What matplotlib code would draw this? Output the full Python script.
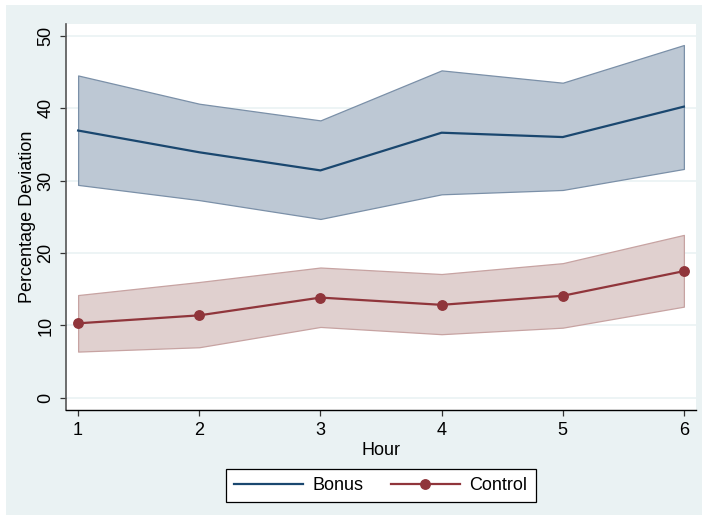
import matplotlib
matplotlib.use("Agg")
import matplotlib.pyplot as plt
from matplotlib.patches import Rectangle
from matplotlib.lines import Line2D

hours = [1, 2, 3, 4, 5, 6]
bonus_mean = [36.9, 33.9, 31.4, 36.6, 36.0, 40.2]
bonus_upper = [44.5, 40.6, 38.3, 45.2, 43.5, 48.7]
bonus_lower = [29.4, 27.3, 24.7, 28.1, 28.7, 31.6]
control_mean = [10.3, 11.4, 13.85, 12.85, 14.1, 17.5]
control_upper = [14.2, 16.0, 18.0, 17.1, 18.6, 22.5]
control_lower = [6.4, 7.0, 9.8, 8.8, 9.7, 12.6]
yticks = [0, 10, 20, 30, 40, 50]
series_names = ["Bonus", "Control"]

plt.rcParams['font.family'] = ['Liberation Sans', 'DejaVu Sans']

W, H = 702, 515
fig = plt.figure(figsize=(W / 100, H / 100), dpi=100, facecolor='white')
bg = '#eaf2f3'
fig.patches.append(Rectangle((6 / W, 0), 1, (H - 5) / H, transform=fig.transFigure,
                             facecolor=bg, edgecolor='none', zorder=-10))

ax = fig.add_axes([66 / W, (H - 410) / H, (696 - 66) / W, (410 - 24) / H])
ax.set_zorder(1)
ax.set_facecolor('white')

navy = '#1a476f'
maroon = '#90353b'

for y in yticks:
    ax.axhline(y, color=bg, lw=1.2, zorder=0.5)

ax.fill_between(hours, bonus_lower, bonus_upper, facecolor='#bdc8d4',
                edgecolor='#7b90a8', lw=0.9, zorder=1)
ax.fill_between(hours, control_lower, control_upper, facecolor='#e0d0cf',
                edgecolor='#c7a3a2', lw=0.9, zorder=1)
ax.plot(hours, bonus_mean, color=navy, lw=1.6, zorder=3)
ax.plot(hours, control_mean, color=maroon, lw=1.6, marker='o', ms=6.8, zorder=3)

ax.set_xlim(0.9, 6.1)
ax.set_ylim(-1.66, 51.6)
ax.set_xticks(hours)
ax.set_yticks(yticks)
ax.tick_params(axis='both', labelsize=13, length=4.5, width=0.9, color='#333333')
ax.tick_params(axis='x', pad=4)
ax.tick_params(axis='y', pad=4, labelrotation=90)
for lab in ax.get_yticklabels():
    lab.set_va('center')

for s in ['top', 'right']:
    ax.spines[s].set_visible(False)
ax.spines['left'].set_color('#555555')
ax.spines['left'].set_linewidth(1.2)
ax.spines['bottom'].set_color('black')
ax.spines['bottom'].set_linewidth(1.0)

ax.set_xlabel('Hour', fontsize=13, labelpad=2.5)
ax.set_ylabel('Percentage Deviation', fontsize=13, labelpad=0.5)

handles = [Line2D([], [], color=navy, lw=1.6),
           Line2D([], [], color=maroon, lw=1.6, marker='o', ms=6.8)]
leg = fig.legend(handles, series_names, loc='center', ncol=2,
                 bbox_to_anchor=(381 / W, 1 - 485.5 / H), fontsize=13,
                 frameon=True, fancybox=False, edgecolor='black',
                 handlelength=3.8, handletextpad=0.55, columnspacing=1.5,
                 borderpad=0.45)
leg.get_frame().set_linewidth(0.9)
leg.get_frame().set_facecolor('white')
leg.get_frame().set_alpha(1)

fig.savefig('out.png', dpi=100, facecolor='white')
